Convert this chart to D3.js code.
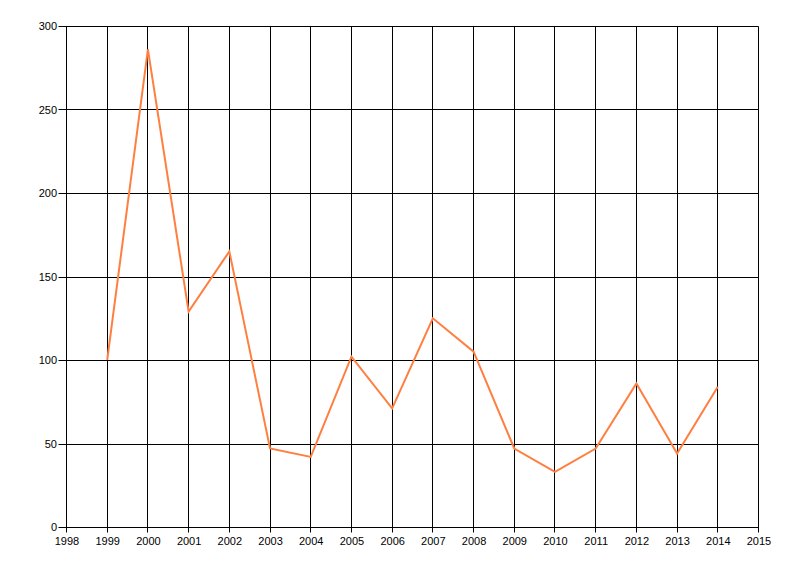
<!DOCTYPE html>
<html>
<head>
<meta charset="utf-8">
<script src="https://cdn.jsdelivr.net/npm/d3@7"></script>
<style>
	body { margin: 0; background: #fff; }
	text { font-family: "Liberation Sans", Arial, sans-serif; font-size: 11px; fill: #000; }
</style>
</head>
<body>
<svg id="chart" width="800" height="576"></svg>
<script>
// years and values
var years = [ 1999, 2000, 2001, 2002, 2003, 2004, 2005, 2006, 2007, 2008, 2009, 2010, 2011, 2012, 2013, 2014 ];
var values = [ 100, 286, 129, 165, 47, 42, 102, 71, 125, 105, 47, 33, 47, 86, 44, 84 ];
var xTicks = d3.range( 1998, 2016 );
var yTicks = [ 0, 50, 100, 150, 200, 250, 300 ];

var plotLeft = 66, plotRight = 758, plotTop = 26, plotBottom = 527;

var svg = d3.select( '#chart' );

var x = d3.scaleLinear().domain( [ 1998, 2015 ] ).range( [ plotLeft, plotRight ] );
var y = d3.scaleLinear().domain( [ 0, 300 ] ).range( [ plotBottom, plotTop ] );

function px( v ) { return Math.round( v ) + 0.5; }

// grid
svg.append( 'g' )
	.selectAll( 'line' ).data( xTicks )
	.enter().append( 'line' )
	.attr( 'x1', function( d ) { return px( x( d ) ); } )
	.attr( 'x2', function( d ) { return px( x( d ) ); } )
	.attr( 'y1', px( plotTop ) )
	.attr( 'y2', px( plotBottom ) + 5 )
	.style( 'stroke', '#000' );

svg.append( 'g' )
	.selectAll( 'line' ).data( yTicks )
	.enter().append( 'line' )
	.attr( 'x1', px( plotLeft ) - 8 )
	.attr( 'x2', px( plotRight ) )
	.attr( 'y1', function( d ) { return px( y( d ) ); } )
	.attr( 'y2', function( d ) { return px( y( d ) ); } )
	.style( 'stroke', '#000' );

// tick labels
svg.append( 'g' )
	.selectAll( 'text' ).data( xTicks )
	.enter().append( 'text' )
	.attr( 'x', function( d ) { return x( d ) + 1; } )
	.attr( 'y', plotBottom + 18 )
	.attr( 'text-anchor', 'middle' )
	.text( function( d ) { return d; } );

svg.append( 'g' )
	.selectAll( 'text' ).data( yTicks )
	.enter().append( 'text' )
	.attr( 'x', plotLeft - 9 )
	.attr( 'y', function( d ) { return y( d ) + 4; } )
	.attr( 'text-anchor', 'end' )
	.text( function( d ) { return d; } );

// series
var line = d3.line()
	.x( function( d, i ) { return x( years[ i ] ) + 0.5; } )
	.y( function( d ) { return y( d ); } );

svg.append( 'path' )
	.datum( values )
	.attr( 'd', line )
	.style( 'fill', 'none' )
	.style( 'stroke', '#ff7f40' )
	.style( 'stroke-width', 2 )
	.style( 'stroke-linejoin', 'miter' );
</script>
</body>
</html>
